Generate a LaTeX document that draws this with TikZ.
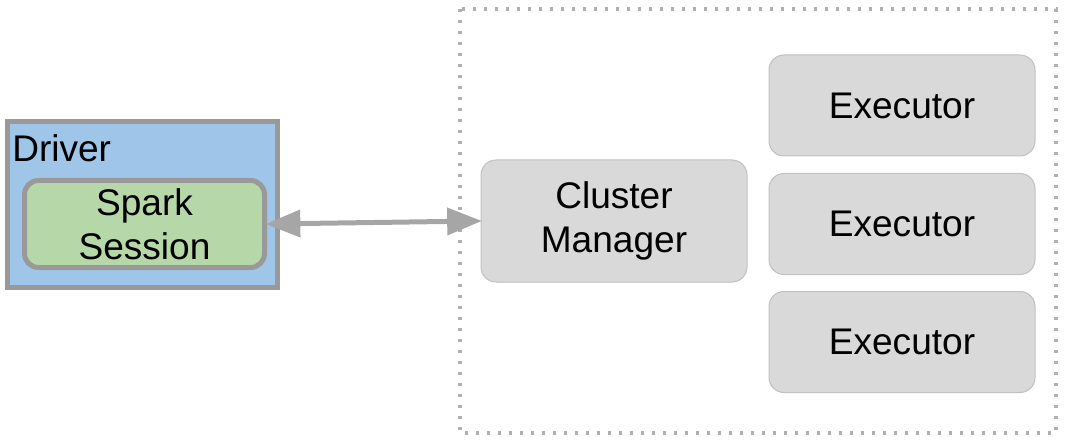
\documentclass[tikz,border=0pt]{standalone}
\usepackage{fontspec}
\setmainfont{Liberation Sans}
\usetikzlibrary{arrows.meta}
\definecolor{drvfill}{HTML}{9FC5E8}
\definecolor{ssfill}{HTML}{B6D7A8}
\definecolor{boxgray}{HTML}{999999}
\definecolor{nodefill}{HTML}{D9D9D9}
\definecolor{nodeline}{HTML}{C0C0C0}
\definecolor{arrowgray}{HTML}{A6A6A6}
\definecolor{dotgray}{HTML}{B0B0B0}
\tikzset{
  lbl/.style={font=\fontsize{27.8pt}{33.3pt}\selectfont, align=center},
  drvbox/.style={draw=boxgray, line width=3.75pt, fill=drvfill, minimum width=202.5pt, minimum height=124.5pt, inner sep=0pt},
  ssbox/.style={lbl, draw=boxgray, line width=3.75pt, fill=ssfill, rounded corners=10.5pt, minimum width=180pt, minimum height=65.25pt, inner sep=0pt},
  grbox/.style={lbl, draw=nodeline, line width=0.75pt, fill=nodefill, rounded corners=11.25pt, minimum width=199.5pt, inner sep=0pt},
  conn/.style={draw=arrowgray, line width=3.75pt, {Triangle[length=26pt,width=20pt]}-{Triangle[length=26pt,width=20pt]}, shorten <=-1pt, shorten >=-1pt},
  clusterbox/.style={draw=dotgray, line width=2.4pt, dash pattern=on 2.4pt off 5.85pt}
}
\begin{document}
\begin{tikzpicture}[x=0.75pt, y=-0.75pt]
\useasboundingbox (0,0) rectangle (1067,442);
\draw[clusterbox] (460,9) rectangle (1056,433);
\node[drvbox] (drv) at (142.5,204.5) {};
\node[lbl, anchor=base west, inner sep=0pt] (drvlbl) at (12,162) {Driver};
\node[ssbox] (ss) at (144.5,224) {Spark\\Session};
\node[grbox, minimum height=91.5pt] (cm) at (614,221) {Cluster\\Manager};
\node[grbox, minimum height=75.75pt] (e1) at (902,105.5) {Executor};
\node[grbox, minimum height=75.75pt] (e2) at (902,224) {Executor};
\node[grbox, minimum height=75.75pt] (e3) at (902,342) {Executor};
\draw[conn] (ss.east) -- (cm.west);
\end{tikzpicture}
\end{document}
